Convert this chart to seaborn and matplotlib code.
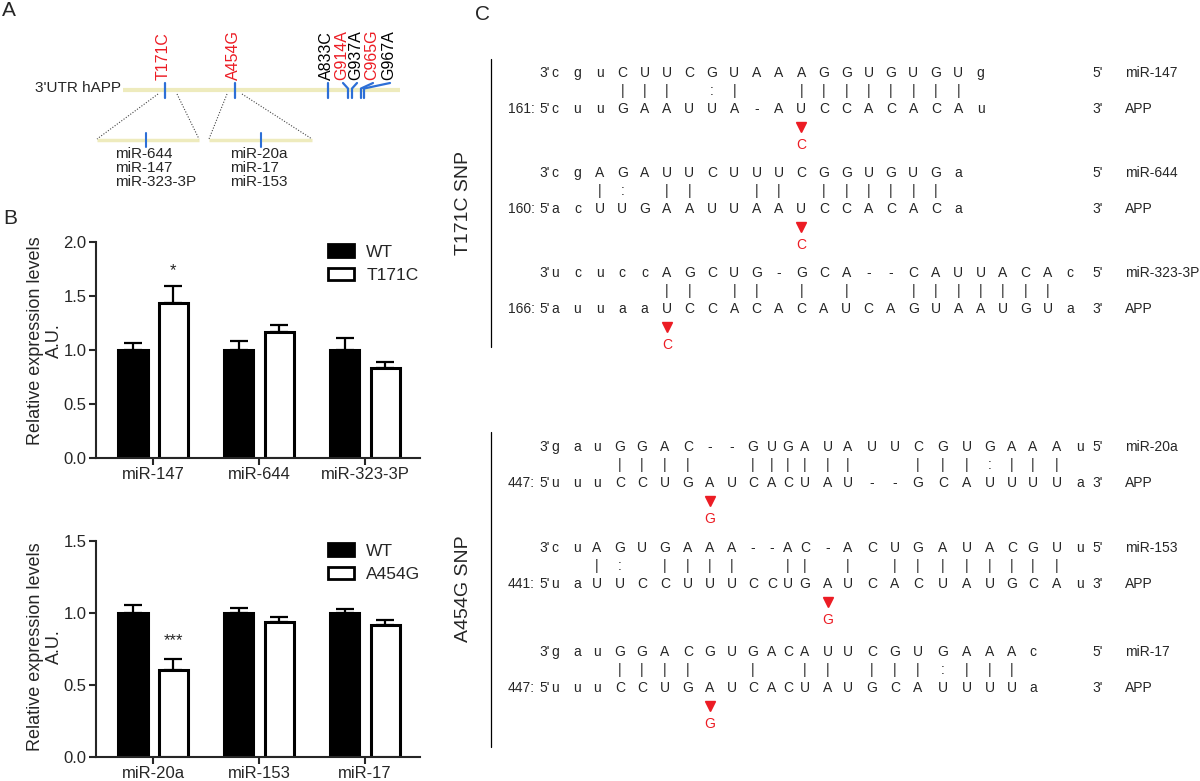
import numpy as np
import pandas as pd
import matplotlib
matplotlib.use('Agg')
import matplotlib.pyplot as plt
from matplotlib.patches import Patch
import seaborn as sns

# ---------------- data: panel B ----------------
top_mirnas = ['miR-147', 'miR-644', 'miR-323-3P']
top_wt = [1.00, 1.00, 1.00]
top_wt_err = [0.06, 0.085, 0.105]
top_mut = [1.43, 1.16, 0.835]
top_mut_err = [0.16, 0.07, 0.05]
top_mut_label = 'T171C'
top_sig = ['*', '', '']
top_yticks = [0.0, 0.5, 1.0, 1.5, 2.0]

bot_mirnas = ['miR-20a', 'miR-153', 'miR-17']
bot_wt = [1.00, 1.00, 1.00]
bot_wt_err = [0.055, 0.035, 0.025]
bot_mut = [0.60, 0.935, 0.915]
bot_mut_err = [0.077, 0.033, 0.035]
bot_mut_label = 'A454G'
bot_sig = ['***', '', '']
bot_yticks = [0.0, 0.5, 1.0, 1.5]

# ---------------- data: panel A ----------------
utr_label = "3'UTR hAPP"
snp_labels = ['T171C', 'A454G', 'A833C', 'G914A', 'G937A', 'C965G', 'G967A']
snp_highlight = [True, True, False, True, False, True, False]
left_site_mirnas = ['miR-644', 'miR-147', 'miR-323-3P']
right_site_mirnas = ['miR-20a', 'miR-17', 'miR-153']

# ---------------- data: panel C ----------------
c_names = ['miR-147', 'miR-644', 'miR-323-3P', 'miR-20a', 'miR-153', 'miR-17']
c_mirna_seq = ['cguCUUCGUAAAGGUGUGUg',
               'cgAGAUUCUUUCGGUGUGa',
               'ucuccAGCUG-GCA--CAUUACAc',
               'gauGGAC--GUGAUAUUCGUGAAAu',
               'cuAGUGAAA--AC-ACUGAUACGUu',
               'gauGGACGUGACAUUCGUGAAAc']
c_pairs = ['   ||| :|  |||||||| ',
           '  |: ||  || |||||| ',
           '     || || | |  ||||||| ',
           '   ||||  ||||||  |||:||| ',
           '  |: ||||  || | |||||||| ',
           '   ||||  |  || |||:||| ']
c_app_seq = ['cuuGAAUUA-AUCCACACAu',
             'acUUGAAUUAAUCCACACa',
             'auuaaUCCACACAUCAGUAAUGUa',
             'uuuCCUGAUCACUAU--GCAUUUUa',
             'uaUUCCUUUCCUGAUCACUAUGCAu',
             'uuuCCUGAUCACUAUGCAUUUUa']
c_app_start = ['161:', '160:', '166:', '447:', '441:', '447:']
c_snp_index = [11, 11, 5, 7, 13, 7]
c_snp_base = ['C', 'C', 'C', 'G', 'G', 'G']
c_group = ['T171C SNP', 'A454G SNP']

# ---------------- style ----------------
sns.set_style('ticks')
plt.rcParams['font.family'] = ['Liberation Sans', 'DejaVu Sans']
RED = '#ec1c24'
BLUE = '#2d6fd6'
BAND = '#eeebbd'

W, H = 1200, 781
fig = plt.figure(figsize=(12, 7.81), dpi=100, facecolor='white')

# overlay axes in pixel coordinates for schematic panels
ax0 = fig.add_axes([0, 0, 1, 1])
ax0.set_xlim(0, W)
ax0.set_ylim(H, 0)
ax0.axis('off')

# panel letters
for lab, (x, y) in zip(['A', 'B', 'C'], [(9, 11), (10, 219), (482, 15)]):
    ax0.text(x, y, lab, fontsize=15, ha='center', va='center')

# ---------------- panel A ----------------
ax0.text(121, 88, utr_label, fontsize=11, ha='right', va='center')
ax0.plot([123, 400], [90, 90], color=BAND, lw=3, solid_capstyle='butt', zorder=1)
label_x = [163, 233, 326, 342, 356, 372, 389]
tick_x = [165, 235, 328, 348, 352, 361, 364]
for i, lab in enumerate(snp_labels):
    ax0.text(label_x[i], 80, lab, rotation=90, ha='center', va='bottom', fontsize=11.5,
             color=RED if snp_highlight[i] else 'black')
    if i < 3:
        ax0.plot([tick_x[i], tick_x[i]], [83, 98], color=BLUE, lw=1.6, zorder=2)
    else:
        ax0.plot([label_x[i] + 1, tick_x[i], tick_x[i]], [83, 88.5, 98], color=BLUE, lw=1.6, zorder=2)
# zoomed sub-bands
for (x0, x1, tx), (s0, s1) in zip([(97, 199, 146), (209, 312, 261)], [(158, 177), (227, 242)]):
    ax0.plot([x0, x1], [140, 140], color=BAND, lw=2.5, solid_capstyle='butt', zorder=1)
    ax0.plot([tx, tx], [133, 147], color=BLUE, lw=1.5, zorder=2)
    ax0.plot([s0, x0], [94, 139], color='#444444', lw=0.8, ls=(0, (1, 1.5)))
    ax0.plot([s1, x1], [94, 139], color='#444444', lw=0.8, ls=(0, (1, 1.5)))
for names, x in [(left_site_mirnas, 115), (right_site_mirnas, 230)]:
    for j, nm in enumerate(names):
        ax0.text(x, 154 + 14 * j, nm, fontsize=11, ha='left', va='center')

# ---------------- panel C ----------------
FS = 10
top_cols = [555 + 22.4 * i for i in range(24)]
bot_cols = [555, 577, 597, 620, 642, 665, 688, 710, 732, 753, 772, 788, 805,
            828, 848, 872, 895, 918, 943, 967, 990, 1012, 1033, 1057, 1080]
row_y = [73, 173, 273, 447, 548, 652]
for k in range(6):
    cols = top_cols if k < 3 else bot_cols
    y = row_y[k]
    ya = y + 36
    ax0.text(cols[0] - 5, y, "3'", fontsize=FS, ha='right', va='center')
    ax0.text(cols[0] - 5, ya, "5'", fontsize=FS, ha='right', va='center')
    ax0.text(535, ya, c_app_start[k], fontsize=FS, ha='right', va='center')
    for i, ch in enumerate(c_mirna_seq[k]):
        ax0.text(cols[i], y, ch, fontsize=FS, ha='center', va='center')
    for i, ch in enumerate(c_pairs[k]):
        if ch != ' ':
            ax0.text(cols[i], y + 18, ch, fontsize=FS, ha='center', va='center')
    for i, ch in enumerate(c_app_seq[k]):
        ax0.text(cols[i], ya, ch, fontsize=FS, ha='center', va='center')
    ax0.text(1098, y, "5'", fontsize=FS, ha='center', va='center')
    ax0.text(1098, ya, "3'", fontsize=FS, ha='center', va='center')
    ax0.text(1125, y, c_names[k], fontsize=FS, ha='left', va='center')
    ax0.text(1125, ya, 'APP', fontsize=FS, ha='left', va='center')
    sx = cols[c_snp_index[k]]
    ax0.plot([sx], [y + 54], marker='v', color=RED, ms=7.5, mec=RED)
    ax0.text(sx, y + 72, c_snp_base[k], fontsize=FS, ha='center', va='center', color=RED)

ax0.plot([491, 491], [59, 347], color='black', lw=0.9)
ax0.plot([491, 491], [432, 747], color='black', lw=0.9)
ax0.text(463, 203, c_group[0], rotation=90, fontsize=14, ha='center', va='center')
ax0.text(463, 589, c_group[1], rotation=90, fontsize=14, ha='center', va='center')

# ---------------- panel B bar charts ----------------
def px_axes(left, right, top, bottom):
    return [left / W, 1 - bottom / H, (right - left) / W, (bottom - top) / H]


def bar_panel(rect, mirnas, wt, wt_err, mut, mut_err, mut_label, sig, ymax, yticks, ylab_y):
    ax = fig.add_axes(rect)
    ax.patch.set_alpha(0)
    df = pd.DataFrame({'miRNA': mirnas * 2,
                       'Genotype': ['WT'] * len(mirnas) + [mut_label] * len(mirnas),
                       'value': list(wt) + list(mut)})
    sns.barplot(data=df, x='miRNA', y='value', hue='Genotype', order=mirnas,
                hue_order=['WT', mut_label], palette={'WT': 'black', mut_label: 'white'},
                edgecolor='black', linewidth=2.2, width=0.764, gap=0.28,
                errorbar=None, legend=False, saturation=1, ax=ax)
    errs = [wt_err, mut_err]
    for cont, err in zip(ax.containers, errs):
        xs = np.array([b.get_x() + b.get_width() / 2 for b in cont])
        hs = np.array([b.get_height() for b in cont])
        e = np.array(err)
        ax.errorbar(xs, hs, yerr=[np.zeros_like(e), e], fmt='none', ecolor='black',
                    elinewidth=1.6, capsize=6.5, capthick=1.6, zorder=3)
    cont = ax.containers[1]
    for b, s, e in zip(cont, sig, mut_err):
        if s:
            ax.text(b.get_x() + b.get_width() / 2, b.get_height() + e + 0.10, s,
                    ha='center', va='baseline', fontsize=12)
    ax.set_xlim(-0.54, 2.52)
    ax.set_ylim(0, ymax)
    ax.set_yticks(yticks)
    ax.set_yticklabels([f'{t:.1f}' for t in yticks])
    ax.set_xlabel('')
    ax.set_ylabel('Relative expression levels\nA.U.', fontsize=13, linespacing=1.15)
    ax.yaxis.set_label_coords(-0.103, ylab_y)
    sns.despine(ax=ax)
    for sp in ['left', 'bottom']:
        ax.spines[sp].set_linewidth(1.5)
    ax.tick_params(axis='both', direction='out', length=5, width=1.5, labelsize=12, pad=2)
    handles = [Patch(facecolor='black', edgecolor='black', linewidth=2),
               Patch(facecolor='white', edgecolor='black', linewidth=2)]
    ax.legend(handles, ['WT', mut_label], loc='upper left', bbox_to_anchor=(0.716, 0.988),
              frameon=False, fontsize=12.5, handlelength=1.5, handleheight=0.75,
              handletextpad=0.7, labelspacing=0.45, borderpad=0, borderaxespad=0)
    return ax


bar_panel(px_axes(96, 420, 241.7, 457.7), top_mirnas, top_wt, top_wt_err, top_mut,
          top_mut_err, top_mut_label, top_sig, 2.0, top_yticks, 0.54)
bar_panel(px_axes(96, 420, 540.7, 756.7), bot_mirnas, bot_wt, bot_wt_err, bot_mut,
          bot_mut_err, bot_mut_label, bot_sig, 1.5, bot_yticks, 0.51)

fig.savefig('out.png', dpi=100, facecolor='white')
